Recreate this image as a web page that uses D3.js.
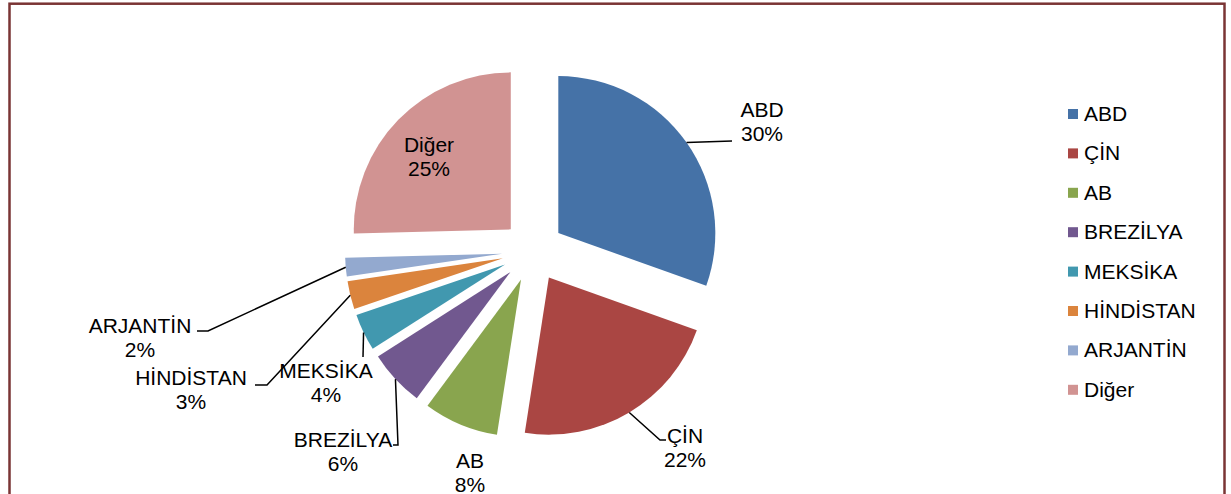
<html>
<head>
<style>
  body { margin: 0; background: #fff; }
  text { font-family: "Liberation Sans", Arial, sans-serif; fill: #000; }
</style>
</head>
<body>
<svg id="chart" width="1231" height="494"></svg>
<script src="https://cdnjs.cloudflare.com/ajax/libs/d3/7.8.5/d3.min.js"></script>
<script>
// data (slice sizes, labels show rounded values)
var categories = ['ABD', 'ÇİN', 'AB', 'BREZİLYA', 'MEKSİKA', 'HİNDİSTAN', 'ARJANTİN', 'Diğer'];
var shares = [30.4, 22.0, 7.7, 5.8, 3.8, 2.9, 1.9, 25.4];
var colors = ['#4572A7', '#AA4643', '#89A54E', '#71588F', '#4198AF', '#DB843D', '#93A9CF', '#D19392'];

// label layout (center x, first baseline, leader bend points)
var labelPos = {
  'ABD':       {x: 762, y: 117, path: [[732, 141]]},
  'ÇİN':       {x: 685, y: 443, path: [[660, 440], [666, 440]]},
  'AB':        {x: 470, y: 468, path: null},
  'BREZİLYA':  {x: 343, y: 447, path: [[398, 445], [393, 445]]},
  'MEKSİKA':   {x: 326, y: 378, path: [[363, 357]]},
  'HİNDİSTAN': {x: 191, y: 385, path: [[267, 385], [255, 385]]},
  'ARJANTİN':  {x: 140, y: 333, path: [[208, 331], [197, 331]]},
  'Diğer':     {x: 429, y: 152, path: null}
};

var svg = d3.select('#chart');

// border
svg.append('rect')
  .attr('x', 9.5).attr('y', 3.7)
  .attr('width', 1215).attr('height', 520)
  .attr('fill', 'none')
  .attr('stroke', '#7a3434')
  .attr('stroke-width', 2.5);

var cx = 533, cy = 251, r = 157, explode = 31;

var pie = d3.pie().sort(null).value(function(d) { return d; });
var arc = d3.arc().innerRadius(0).outerRadius(r);
var arcs = pie(shares);

var g = svg.append('g').attr('transform', 'translate(' + cx + ',' + cy + ')');

g.selectAll('path.slice')
  .data(arcs)
  .enter().append('path')
  .attr('class', 'slice')
  .attr('d', arc)
  .attr('fill', function(d, i) { return colors[i]; })
  .attr('transform', function(d) {
    var m = (d.startAngle + d.endAngle) / 2;
    return 'translate(' + (Math.sin(m) * explode) + ',' + (-Math.cos(m) * explode) + ')';
  });

// leader lines + labels
arcs.forEach(function(d, i) {
  var name = categories[i];
  var lp = labelPos[name];
  var m = (d.startAngle + d.endAngle) / 2;
  var rr = r + explode;
  var sx = cx + Math.sin(m) * rr, sy = cy - Math.cos(m) * rr;
  if (lp.path) {
    var pts = [[sx, sy]].concat(lp.path);
    svg.append('path')
      .attr('d', d3.line()(pts))
      .attr('fill', 'none')
      .attr('stroke', '#000')
      .attr('stroke-width', 1.5);
  }
  var t = svg.append('text')
    .attr('text-anchor', 'middle')
    .style('font-size', '21px');
  t.append('tspan').attr('x', lp.x).attr('y', lp.y).text(name);
  t.append('tspan').attr('x', lp.x).attr('y', lp.y + 24).text(Math.round(shares[i]) + '%');
});

// legend
var legend = svg.append('g');
categories.forEach(function(c, i) {
  var y = 114 + i * 39.4;
  legend.append('rect')
    .attr('x', 1068).attr('y', y - 5)
    .attr('width', 10).attr('height', 10)
    .attr('fill', colors[i]);
  legend.append('text')
    .attr('x', 1084).attr('y', y + 7)
    .style('font-size', '21px')
    .text(c);
});
</script>
</body>
</html>
